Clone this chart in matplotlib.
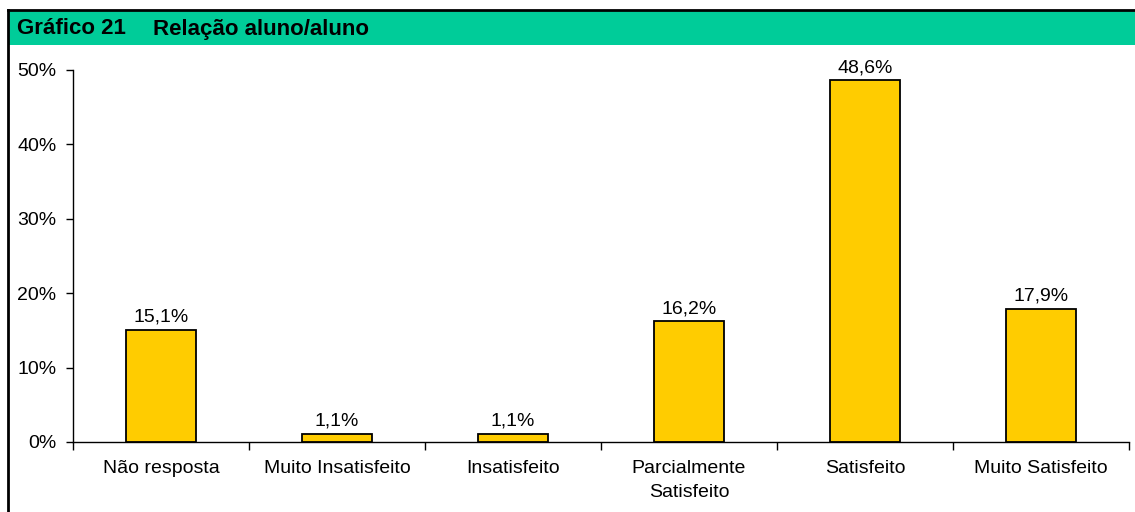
import matplotlib.pyplot as plt
from matplotlib.patches import Rectangle
from matplotlib.lines import Line2D

# data
categories = ['Não resposta', 'Muito Insatisfeito', 'Insatisfeito',
              'Parcialmente\nSatisfeito', 'Satisfeito', 'Muito Satisfeito']
values = [15.1, 1.1, 1.1, 16.2, 48.6, 17.9]
yticks = [0, 10, 20, 30, 40, 50]

plt.rcParams['font.family'] = ['Liberation Sans', 'DejaVu Sans']

W, H = 1135, 512
fig = plt.figure(figsize=(W / 100, H / 100), dpi=100)

# header band and frame
fig.patches.append(Rectangle((9 / W, 1 - 45 / H), 1, 34 / H, transform=fig.transFigure,
                             facecolor='#00CC99', edgecolor='none', zorder=0))
fig.lines.append(Line2D([8 / W, 1], [1 - 9.5 / H, 1 - 9.5 / H], transform=fig.transFigure,
                        color='black', lw=2))
fig.lines.append(Line2D([8 / W, 8 / W], [0, 1 - 9.5 / H], transform=fig.transFigure,
                        color='black', lw=2))
fig.text(17 / W, 1 - 29 / H, 'Gráfico 21', fontsize=16, fontweight='bold', va='center')
fig.text(153 / W, 1 - 29 / H, 'Relação aluno/aluno', fontsize=16, fontweight='bold', va='center')

ax = fig.add_axes([73 / W, 70 / H, (1129 - 73) / W, (442 - 70) / H])
x = range(len(categories))
bars = ax.bar(x, values, width=0.40, color='#FFCC00', edgecolor='black', linewidth=1.3, zorder=3)

for xi, v in zip(x, values):
    ax.annotate(f'{v:.1f}%'.replace('.', ','), (xi, v), xytext=(0, 3),
                textcoords='offset points', ha='center', va='bottom', fontsize=14)

ax.set_xlim(-0.5, len(categories) - 0.5)
ax.set_ylim(0, 50)
ax.set_yticks(yticks)
ax.set_yticklabels([f'{t}%' for t in yticks], fontsize=14)
ax.tick_params(axis='y', length=5, width=1, pad=7)

ax.set_xticks([i - 0.5 for i in range(len(categories) + 1)])
ax.set_xticklabels([])
ax.set_xticks(list(x), minor=True)
ax.set_xticklabels(categories, minor=True, fontsize=14, linespacing=1.5, va='top')
ax.tick_params(axis='x', which='major', length=6, width=1)
ax.tick_params(axis='x', which='minor', length=0, pad=13)

for side in ['top', 'right']:
    ax.spines[side].set_visible(False)
for side in ['left', 'bottom']:
    ax.spines[side].set_linewidth(1)

fig.savefig('out.png', dpi=100)
